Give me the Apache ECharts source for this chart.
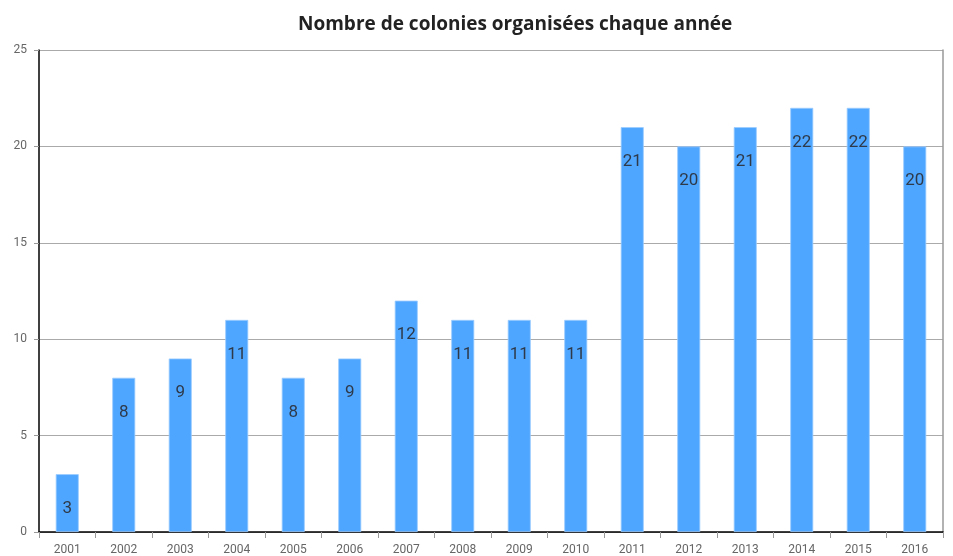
<!DOCTYPE html>
<html>
<head>
    <meta charset="utf-8">
    <title>Colonies</title>
    <script src="https://cdn.jsdelivr.net/npm/echarts@6/dist/echarts.min.js"></script>
</head>
<body style="margin:0">
<div id="chart" style="width:953px;height:556px;"></div>
<script type="text/javascript">
// données
var annees = ['2001','2002','2003','2004','2005','2006','2007','2008','2009','2010','2011','2012','2013','2014','2015','2016'];
var colonies = [3, 8, 9, 11, 8, 9, 12, 11, 11, 11, 21, 20, 21, 22, 22, 20];
var graduations = [0, 5, 10, 15, 20, 25];

var chart = echarts.init(document.getElementById('chart'));
var font = 'Roboto, "DejaVu Sans", sans-serif';

chart.setOption({
    animation: false,
    title: {
        text: 'Nombre de colonies organisées chaque année',
        left: 293,
        top: 10,
        textStyle: { fontSize: 19, fontWeight: 'bold', color: '#222', fontFamily: '"Open Sans", sans-serif' }
    },
    grid: { left: 39, right: 10, top: 50, bottom: 22 },
    xAxis: {
        type: 'category',
        data: annees,
        axisLine: { lineStyle: { color: '#000', width: 1.5 } },
        axisTick: { show: true, length: 6, lineStyle: { color: '#999' } },
        axisLabel: { color: '#666', fontSize: 12, margin: 12, fontFamily: font }
    },
    yAxis: [{
        type: 'value',
        min: graduations[0],
        max: graduations[graduations.length - 1],
        interval: 5,
        axisLine: { show: true, lineStyle: { color: '#000', width: 1.5 } },
        axisTick: { show: true, length: 5, lineStyle: { color: '#999' } },
        axisLabel: { color: '#666', fontSize: 12, margin: 12, fontFamily: font },
        splitLine: { lineStyle: { color: '#aaa' } }
    }, {
        type: 'value',
        position: 'right',
        min: 0, max: 25, interval: 5,
        axisLine: { show: true, lineStyle: { color: '#999', width: 1.5 } },
        axisTick: { show: false },
        axisLabel: { show: false },
        splitLine: { show: false }
    }],
    series: [{
        type: 'bar',
        data: colonies,
        barWidth: 23,
        itemStyle: { color: '#4fa6ff', borderColor: '#9ccbff', borderWidth: 0.8 },
        label: {
            show: true,
            position: 'insideTop',
            distance: 26,
            color: '#2e3a4a',
            fontSize: 17,
            fontFamily: font
        }
    }]
});
</script>
</body>
</html>
